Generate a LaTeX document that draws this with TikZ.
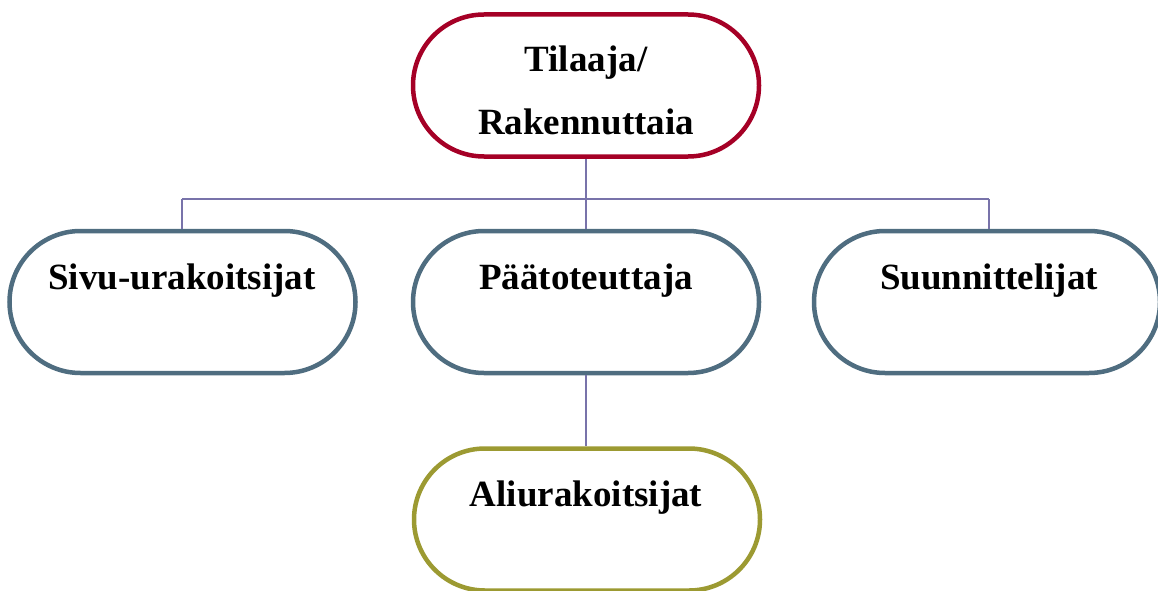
\documentclass[tikz,border=0pt]{standalone}
\usepackage{fontspec}
\setmainfont{Liberation Serif}
\definecolor{topred}{HTML}{A50026}
\definecolor{slate}{HTML}{4F6D80}
\definecolor{olive}{HTML}{9C9A32}
\definecolor{linkc}{HTML}{7873AA}
\begin{document}
\begin{tikzpicture}[x=1pt,y=-1pt,
  pill/.style={draw=#1, line width=4.5pt, fill=white, rectangle,
    minimum width=346pt, minimum height=142pt, rounded corners=71pt,
    inner sep=0pt},
  lbl/.style={anchor=base, font=\fontsize{37}{44}\selectfont\bfseries, inner sep=0pt},
  link/.style={draw=linkc, line width=1.5pt}]
\useasboundingbox (0,0) rectangle (1158,591);

% branch points of the tree
\coordinate (hub) at (586,199);
\coordinate (hl) at (182,199);
\coordinate (hr) at (989,199);

% boxes
\node[pill=topred] (tilaaja) at (586,85.5) {};
\node[pill=slate] (sivu) at (182.5,302) {};
\node[pill=slate] (paato) at (586,302) {};
\node[pill=slate] (suun) at (987,302) {};
\node[pill=olive] (ali) at (587,519.5) {};

% connectors
\draw[link] (tilaaja.south) -- (hub) -- (paato.north);
\draw[link] (hl) -- (hr);
\draw[link] (hl) -- (hl |- sivu.north);
\draw[link] (hr) -- (hr |- suun.north);
\draw[link] (paato.south) -- (paato.south |- ali.north);

% labels
\node[lbl] (t1) at (586,72) {Tilaaja/};
\node[lbl] (t2) at (586,135) {Rakennuttaia};
\node[lbl] (t3) at (182,289) {Sivu-urakoitsijat};
\node[lbl] (t4) at (586,289) {Päätoteuttaja};
\node[lbl] (t5) at (989,289) {Suunnittelijat};
\node[lbl] (t6) at (586,506) {Aliurakoitsijat};
\end{tikzpicture}
\end{document}
